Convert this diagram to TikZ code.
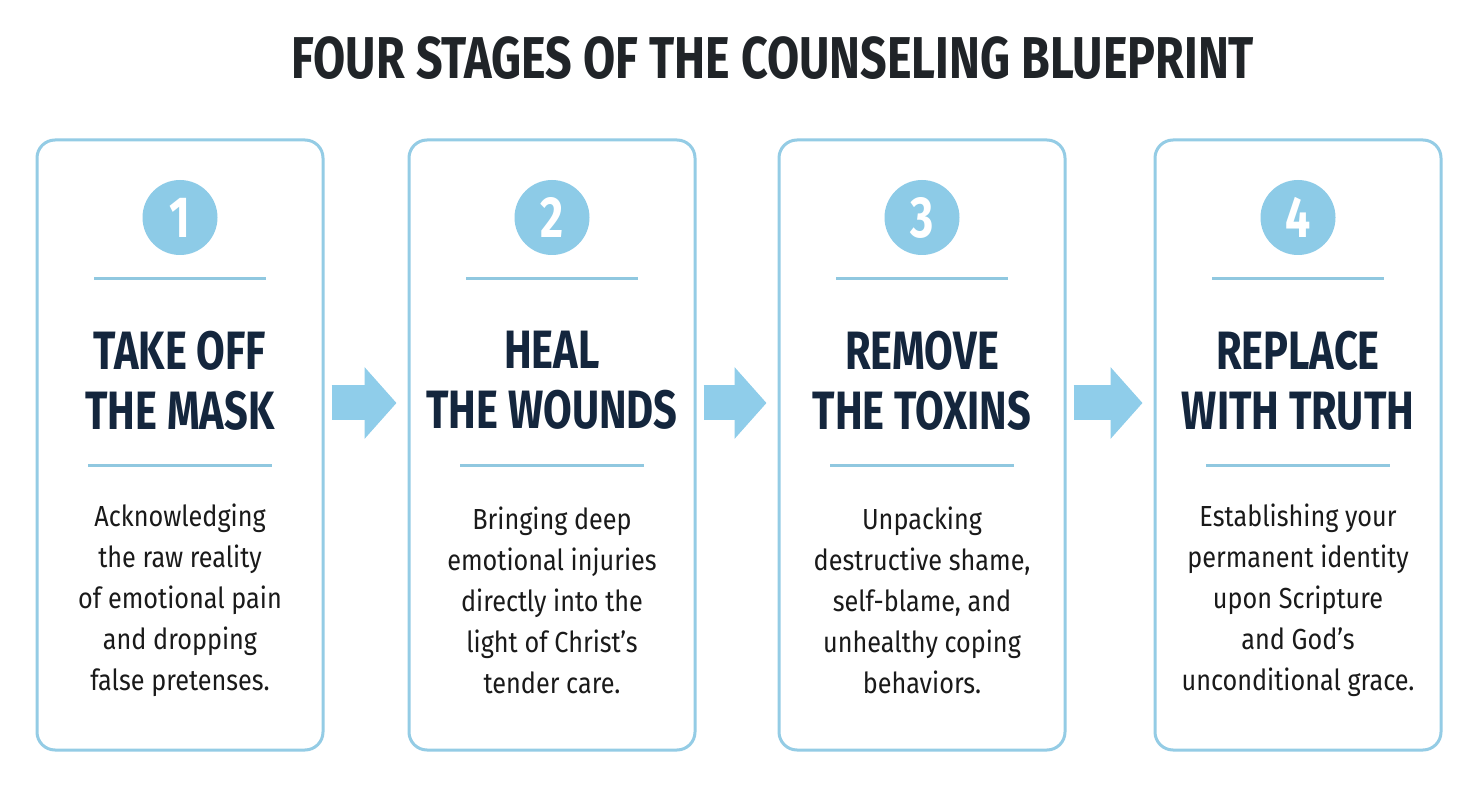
\documentclass[tikz,border=0pt]{standalone}
\usepackage{fontspec}
\usepackage{xcolor}
\usepackage{tikz}
\usetikzlibrary{arrows.meta, positioning, calc}
\setmainfont{Fira Sans}
\newfontfamily\titlefont[FakeStretch=0.79]{Fira Sans}
\newfontfamily\headfont[FakeStretch=0.77]{Fira Sans}
\newfontfamily\bodyfont[FakeStretch=0.87]{Fira Sans}
\definecolor{cardline}{HTML}{94CCE5}
\definecolor{numfill}{HTML}{8DCBE7}
\definecolor{ruleline}{HTML}{90C8E0}
\definecolor{arrowfill}{HTML}{8FCDEA}
\definecolor{navy}{HTML}{14263D}
\definecolor{titleink}{HTML}{202428}
\definecolor{bodyink}{HTML}{1A1A1A}

\begin{document}
\begin{tikzpicture}[
  x=1pt, y=-1pt,
  card/.style={draw=cardline, line width=3pt, rounded corners=18pt, fill=white,
               minimum width=286pt, minimum height=610pt, inner sep=0pt},
  num/.style={circle, fill=numfill, minimum size=75pt, inner sep=0pt, text=white,
              font=\headfont\bfseries\fontsize{58}{58}\selectfont},
  head/.style={align=center, text=navy, font=\headfont\bfseries\fontsize{54}{60}\selectfont},
  body/.style={align=center, text=bodyink, font=\bodyfont\fontsize{29}{41}\selectfont},
  rule/.style={draw=ruleline, line width=2.5pt},
  flow/.style={draw=arrowfill, line width=35pt,
               -{Triangle[length=32pt, width=70pt]},
               shorten <=7pt, shorten >=11pt},
]
\useasboundingbox[fill=white] (0,0) rectangle (1481,791);

\node[text=titleink, font=\titlefont\bfseries\fontsize{59}{60}\selectfont] (title) at (773,58) {FOUR STAGES OF THE COUNSELING BLUEPRINT};

% stage cards
\node[card] (card1) at (180,445) {};
\node[card] (card2) at (552,445) {};
\node[card] (card3) at (922,445) {};
\node[card] (card4) at (1298,445) {};

% stage 1
\node[num] (num1) at ($(card1.north)+(0,79)$) {1};
\draw[rule] ($(card1.north)+(-86,140)$) -- ($(card1.north)+(86,140)$);
\node[head] (head1) at ($(card1.north)+(0,242)$) {TAKE OFF\\THE MASK};
\draw[rule] ($(card1.north)+(-92,327)$) -- ($(card1.north)+(92,327)$);
\node[body] (body1) at ($(card1.north)+(0,462)$) {Acknowledging\\the raw reality\\of emotional pain\\and dropping\\false pretenses.};

% stage 2
\node[num] (num2) at ($(card2.north)+(0,79)$) {2};
\draw[rule] ($(card2.north)+(-86,140)$) -- ($(card2.north)+(86,140)$);
\node[head] (head2) at ($(card2.north)+(0,242)$) {HEAL\\THE WOUNDS};
\draw[rule] ($(card2.north)+(-92,327)$) -- ($(card2.north)+(92,327)$);
\node[body] (body2) at ($(card2.north)+(0,462)$) {Bringing deep\\emotional injuries\\directly into the\\light of Christ’s\\tender care.};

% stage 3
\node[num] (num3) at ($(card3.north)+(0,79)$) {3};
\draw[rule] ($(card3.north)+(-86,140)$) -- ($(card3.north)+(86,140)$);
\node[head] (head3) at ($(card3.north)+(0,242)$) {REMOVE\\THE TOXINS};
\draw[rule] ($(card3.north)+(-92,327)$) -- ($(card3.north)+(92,327)$);
\node[body] (body3) at ($(card3.north)+(0,462)$) {Unpacking\\destructive shame,\\self-blame, and\\unhealthy coping\\behaviors.};

% stage 4
\node[num] (num4) at ($(card4.north)+(0,79)$) {4};
\draw[rule] ($(card4.north)+(-86,140)$) -- ($(card4.north)+(86,140)$);
\node[head] (head4) at ($(card4.north)+(0,242)$) {REPLACE\\WITH TRUTH};
\draw[rule] ($(card4.north)+(-92,327)$) -- ($(card4.north)+(92,327)$);
\node[body] (body4) at ($(card4.north)+(0,462)$) {Establishing your\\permanent identity\\upon Scripture\\and God’s\\unconditional grace.};

% flow arrows
\draw[flow] ([yshift=42pt]card1.east) -- ([yshift=42pt]card2.west);
\draw[flow] ([yshift=42pt]card2.east) -- ([yshift=42pt]card3.west);
\draw[flow] ([yshift=42pt]card3.east) -- ([yshift=42pt]card4.west);
\end{tikzpicture}
\end{document}
